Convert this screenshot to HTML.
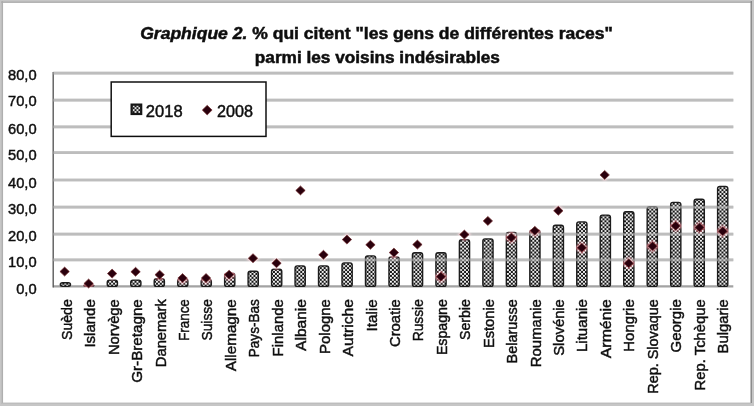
<!DOCTYPE html>
<html><head><meta charset="utf-8"><title>Graphique 2</title>
<style>
html,body{margin:0;padding:0;background:#fff;}
body{width:754px;height:406px;overflow:hidden;font-family:"Liberation Sans",sans-serif;}
svg{display:block;}
text{font-family:"Liberation Sans",sans-serif;fill:#111;stroke:#111;stroke-width:0.45px;}
.t{stroke-width:0.5px;}
</style></head><body>
<svg width="754" height="406" viewBox="0 0 754 406">
<defs>
<pattern id="chk" width="3.9" height="3.9" patternUnits="userSpaceOnUse"><rect width="3.9" height="3.9" fill="#141414"/><rect x="0" y="0" width="1.85" height="1.85" fill="#fff"/><rect x="1.95" y="1.95" width="1.85" height="1.85" fill="#fff"/></pattern>
<filter id="soft" x="-5%" y="-5%" width="110%" height="110%"><feGaussianBlur stdDeviation="0.55"/></filter>
<filter id="soft2" x="-5%" y="-5%" width="110%" height="110%"><feGaussianBlur stdDeviation="0.5"/></filter>
<filter id="halo" x="-50%" y="-50%" width="200%" height="200%"><feGaussianBlur stdDeviation="0.9"/></filter>
</defs>
<rect x="0" y="0" width="754" height="406" fill="#c6c6c6"/>
<rect x="3.1" y="2.9" width="747.5" height="399.8" fill="#fff"/>
<g filter="url(#soft)"><line x1="2.3" y1="1" x2="2.3" y2="404" stroke="#adadad" stroke-width="1.2"/><line x1="1" y1="2.2" x2="752" y2="2.2" stroke="#adadad" stroke-width="1.2"/><line x1="751.2" y1="1" x2="751.2" y2="403" stroke="#787878" stroke-width="1.1"/><line x1="1" y1="403.4" x2="751" y2="403.4" stroke="#bdbdbd" stroke-width="1.4"/></g>
<g filter="url(#soft)">
<rect x="8" y="8" width="738" height="390" fill="#fff"/>
<line x1="53.2" y1="73.1" x2="733.3" y2="73.1" stroke="#b5b5b5" stroke-width="2.7"/>
<line x1="53.2" y1="100.2" x2="733.3" y2="100.2" stroke="#b5b5b5" stroke-width="2.7"/>
<line x1="53.2" y1="126.8" x2="733.3" y2="126.8" stroke="#b5b5b5" stroke-width="2.7"/>
<line x1="53.2" y1="152.7" x2="733.3" y2="152.7" stroke="#b5b5b5" stroke-width="2.7"/>
<line x1="53.2" y1="180" x2="733.3" y2="180" stroke="#b5b5b5" stroke-width="2.7"/>
<line x1="53.2" y1="207.2" x2="733.3" y2="207.2" stroke="#b5b5b5" stroke-width="2.7"/>
<line x1="53.2" y1="234.2" x2="733.3" y2="234.2" stroke="#b5b5b5" stroke-width="2.7"/>
<line x1="53.2" y1="259.9" x2="733.3" y2="259.9" stroke="#b5b5b5" stroke-width="2.7"/>
<line x1="53.2" y1="286.4" x2="733.3" y2="286.4" stroke="#a2a2a2" stroke-width="2.2"/>
<line x1="53.2" y1="72" x2="53.2" y2="287.59999999999997" stroke="#555" stroke-width="1.35"/>
<rect x="60.30" y="282.80" width="10.2" height="3.60" rx="2.2" fill="url(#chk)" stroke="#1c1c1c" stroke-width="1.4"/>
<rect x="83.78" y="284.70" width="10.2" height="1.70" rx="2.2" fill="url(#chk)" stroke="#1c1c1c" stroke-width="1.4"/>
<rect x="107.25" y="280.10" width="10.2" height="6.30" rx="2.2" fill="url(#chk)" stroke="#1c1c1c" stroke-width="1.4"/>
<rect x="130.73" y="280.10" width="10.2" height="6.30" rx="2.2" fill="url(#chk)" stroke="#1c1c1c" stroke-width="1.4"/>
<rect x="154.20" y="278.80" width="10.2" height="7.60" rx="2.2" fill="url(#chk)" stroke="#1c1c1c" stroke-width="1.4"/>
<rect x="177.68" y="278.80" width="10.2" height="7.60" rx="2.2" fill="url(#chk)" stroke="#1c1c1c" stroke-width="1.4"/>
<rect x="201.15" y="279.20" width="10.2" height="7.20" rx="2.2" fill="url(#chk)" stroke="#1c1c1c" stroke-width="1.4"/>
<rect x="224.63" y="273.20" width="10.2" height="13.20" rx="2.2" fill="url(#chk)" stroke="#1c1c1c" stroke-width="1.4"/>
<rect x="248.10" y="271.30" width="10.2" height="15.10" rx="2.2" fill="url(#chk)" stroke="#1c1c1c" stroke-width="1.4"/>
<rect x="271.57" y="269.30" width="10.2" height="17.10" rx="2.2" fill="url(#chk)" stroke="#1c1c1c" stroke-width="1.4"/>
<rect x="295.05" y="265.90" width="10.2" height="20.50" rx="2.2" fill="url(#chk)" stroke="#1c1c1c" stroke-width="1.4"/>
<rect x="318.52" y="265.90" width="10.2" height="20.50" rx="2.2" fill="url(#chk)" stroke="#1c1c1c" stroke-width="1.4"/>
<rect x="342.00" y="262.90" width="10.2" height="23.50" rx="2.2" fill="url(#chk)" stroke="#1c1c1c" stroke-width="1.4"/>
<rect x="365.48" y="255.90" width="10.2" height="30.50" rx="2.2" fill="url(#chk)" stroke="#1c1c1c" stroke-width="1.4"/>
<rect x="388.95" y="256.90" width="10.2" height="29.50" rx="2.2" fill="url(#chk)" stroke="#1c1c1c" stroke-width="1.4"/>
<rect x="412.42" y="252.70" width="10.2" height="33.70" rx="2.2" fill="url(#chk)" stroke="#1c1c1c" stroke-width="1.4"/>
<rect x="435.90" y="252.70" width="10.2" height="33.70" rx="2.2" fill="url(#chk)" stroke="#1c1c1c" stroke-width="1.4"/>
<rect x="459.38" y="239.70" width="10.2" height="46.70" rx="2.2" fill="url(#chk)" stroke="#1c1c1c" stroke-width="1.4"/>
<rect x="482.85" y="238.90" width="10.2" height="47.50" rx="2.2" fill="url(#chk)" stroke="#1c1c1c" stroke-width="1.4"/>
<rect x="506.33" y="232.40" width="10.2" height="54.00" rx="2.2" fill="url(#chk)" stroke="#1c1c1c" stroke-width="1.4"/>
<rect x="529.80" y="229.90" width="10.2" height="56.50" rx="2.2" fill="url(#chk)" stroke="#1c1c1c" stroke-width="1.4"/>
<rect x="553.27" y="225.20" width="10.2" height="61.20" rx="2.2" fill="url(#chk)" stroke="#1c1c1c" stroke-width="1.4"/>
<rect x="576.75" y="221.90" width="10.2" height="64.50" rx="2.2" fill="url(#chk)" stroke="#1c1c1c" stroke-width="1.4"/>
<rect x="600.23" y="215.10" width="10.2" height="71.30" rx="2.2" fill="url(#chk)" stroke="#1c1c1c" stroke-width="1.4"/>
<rect x="623.70" y="211.80" width="10.2" height="74.60" rx="2.2" fill="url(#chk)" stroke="#1c1c1c" stroke-width="1.4"/>
<rect x="647.17" y="206.70" width="10.2" height="79.70" rx="2.2" fill="url(#chk)" stroke="#1c1c1c" stroke-width="1.4"/>
<rect x="670.65" y="202.40" width="10.2" height="84.00" rx="2.2" fill="url(#chk)" stroke="#1c1c1c" stroke-width="1.4"/>
<rect x="694.12" y="199.20" width="10.2" height="87.20" rx="2.2" fill="url(#chk)" stroke="#1c1c1c" stroke-width="1.4"/>
<rect x="717.60" y="186.40" width="10.2" height="100.00" rx="2.2" fill="url(#chk)" stroke="#1c1c1c" stroke-width="1.4"/>
<line x1="53.2" y1="73.1" x2="733.3" y2="73.1" stroke="#c4c4c4" stroke-width="2.8" opacity="0.55"/>
<line x1="53.2" y1="100.2" x2="733.3" y2="100.2" stroke="#c4c4c4" stroke-width="2.8" opacity="0.55"/>
<line x1="53.2" y1="126.8" x2="733.3" y2="126.8" stroke="#c4c4c4" stroke-width="2.8" opacity="0.55"/>
<line x1="53.2" y1="152.7" x2="733.3" y2="152.7" stroke="#c4c4c4" stroke-width="2.8" opacity="0.55"/>
<line x1="53.2" y1="180" x2="733.3" y2="180" stroke="#c4c4c4" stroke-width="2.8" opacity="0.55"/>
<line x1="53.2" y1="207.2" x2="733.3" y2="207.2" stroke="#c4c4c4" stroke-width="2.8" opacity="0.55"/>
<line x1="53.2" y1="234.2" x2="733.3" y2="234.2" stroke="#c4c4c4" stroke-width="2.8" opacity="0.55"/>
<line x1="53.2" y1="259.9" x2="733.3" y2="259.9" stroke="#c4c4c4" stroke-width="2.8" opacity="0.55"/>
<path d="M64.63 264.90L71.53 271.60L64.63 278.30L57.73 271.60Z" fill="#d26a78" style="mix-blend-mode:screen" filter="url(#halo)"/><path d="M64.63 267.10L69.33 271.60L64.63 276.10L59.93 271.60Z" fill="#2b0508" stroke="#7a3038" stroke-width="0.7"/>
<path d="M88.61 276.80L95.52 283.50L88.61 290.20L81.71 283.50Z" fill="#d26a78" style="mix-blend-mode:screen" filter="url(#halo)"/><path d="M88.61 279.00L93.31 283.50L88.61 288.00L83.91 283.50Z" fill="#2b0508" stroke="#7a3038" stroke-width="0.7"/>
<path d="M112.10 266.90L119.00 273.60L112.10 280.30L105.20 273.60Z" fill="#d26a78" style="mix-blend-mode:screen" filter="url(#halo)"/><path d="M112.10 269.10L116.80 273.60L112.10 278.10L107.40 273.60Z" fill="#2b0508" stroke="#7a3038" stroke-width="0.7"/>
<path d="M135.58 265.10L142.48 271.80L135.58 278.50L128.69 271.80Z" fill="#d26a78" style="mix-blend-mode:screen" filter="url(#halo)"/><path d="M135.58 267.30L140.28 271.80L135.58 276.30L130.88 271.80Z" fill="#2b0508" stroke="#7a3038" stroke-width="0.7"/>
<path d="M159.67 268.00L166.57 274.70L159.67 281.40L152.77 274.70Z" fill="#d26a78" style="mix-blend-mode:screen" filter="url(#halo)"/><path d="M159.67 270.20L164.37 274.70L159.67 279.20L154.97 274.70Z" fill="#2b0508" stroke="#7a3038" stroke-width="0.7"/>
<path d="M182.56 271.40L189.45 278.10L182.56 284.80L175.66 278.10Z" fill="#d26a78" style="mix-blend-mode:screen" filter="url(#halo)"/><path d="M182.56 273.60L187.25 278.10L182.56 282.60L177.86 278.10Z" fill="#2b0508" stroke="#7a3038" stroke-width="0.7"/>
<path d="M206.04 271.40L212.94 278.10L206.04 284.80L199.14 278.10Z" fill="#d26a78" style="mix-blend-mode:screen" filter="url(#halo)"/><path d="M206.04 273.60L210.74 278.10L206.04 282.60L201.34 278.10Z" fill="#2b0508" stroke="#7a3038" stroke-width="0.7"/>
<path d="M229.12 268.00L236.02 274.70L229.12 281.40L222.22 274.70Z" fill="#d26a78" style="mix-blend-mode:screen" filter="url(#halo)"/><path d="M229.12 270.20L233.82 274.70L229.12 279.20L224.42 274.70Z" fill="#2b0508" stroke="#7a3038" stroke-width="0.7"/>
<path d="M253.01 251.50L259.91 258.20L253.01 264.90L246.11 258.20Z" fill="#d26a78" style="mix-blend-mode:screen" filter="url(#halo)"/><path d="M253.01 253.70L257.71 258.20L253.01 262.70L248.31 258.20Z" fill="#2b0508" stroke="#7a3038" stroke-width="0.7"/>
<path d="M276.50 256.50L283.39 263.20L276.50 269.90L269.60 263.20Z" fill="#d26a78" style="mix-blend-mode:screen" filter="url(#halo)"/><path d="M276.50 258.70L281.19 263.20L276.50 267.70L271.80 263.20Z" fill="#2b0508" stroke="#7a3038" stroke-width="0.7"/>
<path d="M300.48 183.70L307.38 190.40L300.48 197.10L293.58 190.40Z" fill="#d26a78" style="mix-blend-mode:screen" filter="url(#halo)"/><path d="M300.48 185.90L305.18 190.40L300.48 194.90L295.78 190.40Z" fill="#2b0508" stroke="#7a3038" stroke-width="0.7"/>
<path d="M323.46 248.10L330.36 254.80L323.46 261.50L316.56 254.80Z" fill="#d26a78" style="mix-blend-mode:screen" filter="url(#halo)"/><path d="M323.46 250.30L328.16 254.80L323.46 259.30L318.76 254.80Z" fill="#2b0508" stroke="#7a3038" stroke-width="0.7"/>
<path d="M346.95 232.90L353.85 239.60L346.95 246.30L340.05 239.60Z" fill="#d26a78" style="mix-blend-mode:screen" filter="url(#halo)"/><path d="M346.95 235.10L351.65 239.60L346.95 244.10L342.25 239.60Z" fill="#2b0508" stroke="#7a3038" stroke-width="0.7"/>
<path d="M370.44 238.10L377.33 244.80L370.44 251.50L363.54 244.80Z" fill="#d26a78" style="mix-blend-mode:screen" filter="url(#halo)"/><path d="M370.44 240.30L375.13 244.80L370.44 249.30L365.74 244.80Z" fill="#2b0508" stroke="#7a3038" stroke-width="0.7"/>
<path d="M393.92 245.90L400.82 252.60L393.92 259.30L387.02 252.60Z" fill="#d26a78" style="mix-blend-mode:screen" filter="url(#halo)"/><path d="M393.92 248.10L398.62 252.60L393.92 257.10L389.22 252.60Z" fill="#2b0508" stroke="#7a3038" stroke-width="0.7"/>
<path d="M417.40 237.90L424.30 244.60L417.40 251.30L410.50 244.60Z" fill="#d26a78" style="mix-blend-mode:screen" filter="url(#halo)"/><path d="M417.40 240.10L422.10 244.60L417.40 249.10L412.70 244.60Z" fill="#2b0508" stroke="#7a3038" stroke-width="0.7"/>
<path d="M440.89 270.00L447.79 276.70L440.89 283.40L433.99 276.70Z" fill="#d26a78" style="mix-blend-mode:screen" filter="url(#halo)"/><path d="M440.89 272.20L445.59 276.70L440.89 281.20L436.19 276.70Z" fill="#2b0508" stroke="#7a3038" stroke-width="0.7"/>
<path d="M464.38 227.90L471.27 234.60L464.38 241.30L457.48 234.60Z" fill="#d26a78" style="mix-blend-mode:screen" filter="url(#halo)"/><path d="M464.38 230.10L469.07 234.60L464.38 239.10L459.68 234.60Z" fill="#2b0508" stroke="#7a3038" stroke-width="0.7"/>
<path d="M487.86 214.20L494.76 220.90L487.86 227.60L480.96 220.90Z" fill="#d26a78" style="mix-blend-mode:screen" filter="url(#halo)"/><path d="M487.86 216.40L492.56 220.90L487.86 225.40L483.16 220.90Z" fill="#2b0508" stroke="#7a3038" stroke-width="0.7"/>
<path d="M511.34 230.90L518.25 237.60L511.34 244.30L504.44 237.60Z" fill="#d26a78" style="mix-blend-mode:screen" filter="url(#halo)"/><path d="M511.34 233.10L516.04 237.60L511.34 242.10L506.64 237.60Z" fill="#2b0508" stroke="#7a3038" stroke-width="0.7"/>
<path d="M534.83 224.10L541.73 230.80L534.83 237.50L527.93 230.80Z" fill="#d26a78" style="mix-blend-mode:screen" filter="url(#halo)"/><path d="M534.83 226.30L539.53 230.80L534.83 235.30L530.13 230.80Z" fill="#2b0508" stroke="#7a3038" stroke-width="0.7"/>
<path d="M558.32 204.10L565.22 210.80L558.32 217.50L551.41 210.80Z" fill="#d26a78" style="mix-blend-mode:screen" filter="url(#halo)"/><path d="M558.32 206.30L563.02 210.80L558.32 215.30L553.62 210.80Z" fill="#2b0508" stroke="#7a3038" stroke-width="0.7"/>
<path d="M581.80 241.00L588.70 247.70L581.80 254.40L574.90 247.70Z" fill="#d26a78" style="mix-blend-mode:screen" filter="url(#halo)"/><path d="M581.80 243.20L586.50 247.70L581.80 252.20L577.10 247.70Z" fill="#2b0508" stroke="#7a3038" stroke-width="0.7"/>
<path d="M604.68 168.20L611.59 174.90L604.68 181.60L597.78 174.90Z" fill="#d26a78" style="mix-blend-mode:screen" filter="url(#halo)"/><path d="M604.68 170.40L609.38 174.90L604.68 179.40L599.98 174.90Z" fill="#2b0508" stroke="#7a3038" stroke-width="0.7"/>
<path d="M628.77 256.50L635.67 263.20L628.77 269.90L621.87 263.20Z" fill="#d26a78" style="mix-blend-mode:screen" filter="url(#halo)"/><path d="M628.77 258.70L633.47 263.20L628.77 267.70L624.07 263.20Z" fill="#2b0508" stroke="#7a3038" stroke-width="0.7"/>
<path d="M652.55 239.60L659.46 246.30L652.55 253.00L645.65 246.30Z" fill="#d26a78" style="mix-blend-mode:screen" filter="url(#halo)"/><path d="M652.55 241.80L657.25 246.30L652.55 250.80L647.85 246.30Z" fill="#2b0508" stroke="#7a3038" stroke-width="0.7"/>
<path d="M675.74 219.20L682.64 225.90L675.74 232.60L668.84 225.90Z" fill="#d26a78" style="mix-blend-mode:screen" filter="url(#halo)"/><path d="M675.74 221.40L680.44 225.90L675.74 230.40L671.04 225.90Z" fill="#2b0508" stroke="#7a3038" stroke-width="0.7"/>
<path d="M699.52 220.70L706.43 227.40L699.52 234.10L692.62 227.40Z" fill="#d26a78" style="mix-blend-mode:screen" filter="url(#halo)"/><path d="M699.52 222.90L704.23 227.40L699.52 231.90L694.82 227.40Z" fill="#2b0508" stroke="#7a3038" stroke-width="0.7"/>
<path d="M722.71 224.60L729.61 231.30L722.71 238.00L715.81 231.30Z" fill="#d26a78" style="mix-blend-mode:screen" filter="url(#halo)"/><path d="M722.71 226.80L727.41 231.30L722.71 235.80L718.01 231.30Z" fill="#2b0508" stroke="#7a3038" stroke-width="0.7"/>
<rect x="111.2" y="82" width="154.8" height="54.4" fill="#fff" stroke="#111" stroke-width="1.5"/>
<rect x="131.6" y="104.6" width="9.6" height="9.4" fill="url(#chk)" stroke="#141414" stroke-width="2.2"/>
<path d="M207.20 103.10L214.30 110.10L207.20 117.10L200.10 110.10Z" fill="#d26a78" style="mix-blend-mode:screen" filter="url(#halo)"/><path d="M207.20 105.30L212.10 110.10L207.20 114.90L202.30 110.10Z" fill="#2b0508" stroke="#7a3038" stroke-width="0.7"/>
</g>
<g filter="url(#soft2)">
<text x="145.8" y="116.6" font-size="15.8" textLength="36.8" lengthAdjust="spacingAndGlyphs">2018</text>
<text x="217" y="116.6" font-size="15.8" textLength="36" lengthAdjust="spacingAndGlyphs">2008</text>
<text x="36.6" y="80.2" font-size="14.7" text-anchor="end">80,0</text>
<text x="36.6" y="106.2" font-size="14.7" text-anchor="end">70,0</text>
<text x="36.6" y="133.5" font-size="14.7" text-anchor="end">60,0</text>
<text x="36.6" y="160.1" font-size="14.7" text-anchor="end">50,0</text>
<text x="36.6" y="187.9" font-size="14.7" text-anchor="end">40,0</text>
<text x="36.6" y="213.9" font-size="14.7" text-anchor="end">30,0</text>
<text x="36.6" y="240.7" font-size="14.7" text-anchor="end">20,0</text>
<text x="36.6" y="267.4" font-size="14.7" text-anchor="end">10,0</text>
<text x="36.6" y="294.3" font-size="14.7" text-anchor="end">0,0</text>
<text class="t" x="140.2" y="38.8" font-size="15.8" font-weight="bold" textLength="472.6" lengthAdjust="spacingAndGlyphs"><tspan font-style="italic">Graphique 2.</tspan> % qui citent "les gens de différentes races"</text>
<text class="t" x="254.8" y="62.7" font-size="15.8" font-weight="bold" textLength="245.1" lengthAdjust="spacingAndGlyphs">parmi les voisins indésirables</text>
<text transform="translate(71.80,299.2) rotate(-90)" x="-40.8" y="0" font-size="14.4" textLength="40.8" lengthAdjust="spacingAndGlyphs">Suède</text>
<text transform="translate(95.24,299.2) rotate(-90)" x="-48.4" y="0" font-size="14.4" textLength="48.4" lengthAdjust="spacingAndGlyphs">Islande</text>
<text transform="translate(118.68,299.2) rotate(-90)" x="-55.9" y="0" font-size="14.4" textLength="55.9" lengthAdjust="spacingAndGlyphs">Norvège</text>
<text transform="translate(142.12,299.2) rotate(-90)" x="-83.6" y="0" font-size="14.4" textLength="83.6" lengthAdjust="spacingAndGlyphs">Gr-Bretagne</text>
<text transform="translate(165.56,299.2) rotate(-90)" x="-68.0" y="0" font-size="14.4" textLength="68.0" lengthAdjust="spacingAndGlyphs">Danemark</text>
<text transform="translate(189.00,299.2) rotate(-90)" x="-41.6" y="0" font-size="14.4" textLength="41.6" lengthAdjust="spacingAndGlyphs">France</text>
<text transform="translate(212.44,299.2) rotate(-90)" x="-41.3" y="0" font-size="14.4" textLength="41.3" lengthAdjust="spacingAndGlyphs">Suisse</text>
<text transform="translate(235.88,299.2) rotate(-90)" x="-72.0" y="0" font-size="14.4" textLength="72.0" lengthAdjust="spacingAndGlyphs">Allemagne</text>
<text transform="translate(259.32,299.2) rotate(-90)" x="-58.0" y="0" font-size="14.4" textLength="58.0" lengthAdjust="spacingAndGlyphs">Pays-Bas</text>
<text transform="translate(282.76,299.2) rotate(-90)" x="-57.2" y="0" font-size="14.4" textLength="57.2" lengthAdjust="spacingAndGlyphs">Finlande</text>
<text transform="translate(306.20,299.2) rotate(-90)" x="-51.7" y="0" font-size="14.4" textLength="51.7" lengthAdjust="spacingAndGlyphs">Albanie</text>
<text transform="translate(329.64,299.2) rotate(-90)" x="-54.7" y="0" font-size="14.4" textLength="54.7" lengthAdjust="spacingAndGlyphs">Pologne</text>
<text transform="translate(353.08,299.2) rotate(-90)" x="-57.2" y="0" font-size="14.4" textLength="57.2" lengthAdjust="spacingAndGlyphs">Autriche</text>
<text transform="translate(376.52,299.2) rotate(-90)" x="-32.3" y="0" font-size="14.4" textLength="32.3" lengthAdjust="spacingAndGlyphs">Italie</text>
<text transform="translate(399.96,299.2) rotate(-90)" x="-47.9" y="0" font-size="14.4" textLength="47.9" lengthAdjust="spacingAndGlyphs">Croatie</text>
<text transform="translate(423.40,299.2) rotate(-90)" x="-42.1" y="0" font-size="14.4" textLength="42.1" lengthAdjust="spacingAndGlyphs">Russie</text>
<text transform="translate(446.84,299.2) rotate(-90)" x="-55.9" y="0" font-size="14.4" textLength="55.9" lengthAdjust="spacingAndGlyphs">Espagne</text>
<text transform="translate(470.28,299.2) rotate(-90)" x="-40.8" y="0" font-size="14.4" textLength="40.8" lengthAdjust="spacingAndGlyphs">Serbie</text>
<text transform="translate(493.72,299.2) rotate(-90)" x="-48.9" y="0" font-size="14.4" textLength="48.9" lengthAdjust="spacingAndGlyphs">Estonie</text>
<text transform="translate(517.16,299.2) rotate(-90)" x="-64.3" y="0" font-size="14.4" textLength="64.3" lengthAdjust="spacingAndGlyphs">Belarusse</text>
<text transform="translate(540.60,299.2) rotate(-90)" x="-68.0" y="0" font-size="14.4" textLength="68.0" lengthAdjust="spacingAndGlyphs">Roumanie</text>
<text transform="translate(564.04,299.2) rotate(-90)" x="-56.5" y="0" font-size="14.4" textLength="56.5" lengthAdjust="spacingAndGlyphs">Slovénie</text>
<text transform="translate(587.48,299.2) rotate(-90)" x="-52.9" y="0" font-size="14.4" textLength="52.9" lengthAdjust="spacingAndGlyphs">Lituanie</text>
<text transform="translate(610.92,299.2) rotate(-90)" x="-59.0" y="0" font-size="14.4" textLength="59.0" lengthAdjust="spacingAndGlyphs">Arménie</text>
<text transform="translate(634.36,299.2) rotate(-90)" x="-52.5" y="0" font-size="14.4" textLength="52.5" lengthAdjust="spacingAndGlyphs">Hongrie</text>
<text transform="translate(657.80,299.2) rotate(-90)" x="-94.5" y="0" font-size="14.4" textLength="94.5" lengthAdjust="spacingAndGlyphs">Rep. Slovaque</text>
<text transform="translate(681.24,299.2) rotate(-90)" x="-53.2" y="0" font-size="14.4" textLength="53.2" lengthAdjust="spacingAndGlyphs">Georgie</text>
<text transform="translate(704.68,299.2) rotate(-90)" x="-91.2" y="0" font-size="14.4" textLength="91.2" lengthAdjust="spacingAndGlyphs">Rep. Tchèque</text>
<text transform="translate(728.12,299.2) rotate(-90)" x="-54.2" y="0" font-size="14.4" textLength="54.2" lengthAdjust="spacingAndGlyphs">Bulgarie</text>
</g>
</svg></body></html>
